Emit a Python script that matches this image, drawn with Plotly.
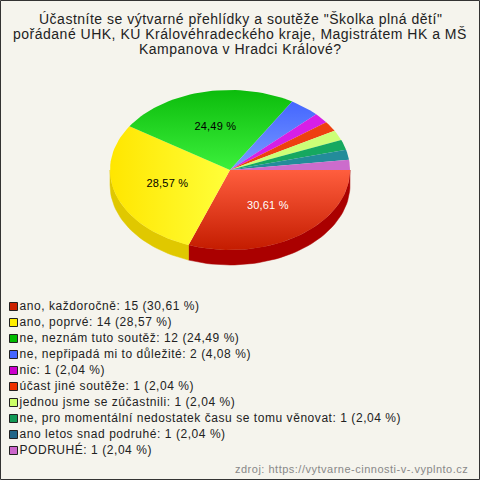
import numpy as np
import plotly.graph_objects as go

# ---- data ----
categories = [
    "ano, každoročně",
    "ano, poprvé",
    "ne, neznám tuto soutěž",
    "ne, nepřipadá mi to důležité",
    "nic",
    "účast jiné soutěže",
    "jednou jsme se zúčastnili",
    "ne, pro momentální nedostatek času se tomu věnovat",
    "ano letos snad podruhé",
    "PODRUHÉ",
]
counts = [15, 14, 12, 2, 1, 1, 1, 1, 1, 1]
percent_labels = ["30,61", "28,57", "24,49", "4,08", "2,04", "2,04", "2,04", "2,04", "2,04", "2,04"]
top_colors = ["#e03a1e", "#fff21a", "#1fd41f", "#5a7dff", "#d61fe6", "#ee4010",
              "#ccff77", "#16a860", "#238c9a", "#cc6ccc"]
# (rim colour, centre colour) for shaded slices
shade_colors = [("#c41c00", "#ff5e3e"), ("#ffe600", "#ffff3a"), ("#0cbc0c", "#3cf03c"),
                ("#4466ff", "#7a9cff"), None, None, None, None, None, None]
side_colors = ["#aa0000", "#e0c800", "#0f9a0f", "#3050cc", "#9a10a8", "#b02a00",
               "#9acc50", "#0c7a44", "#176470", "#9a4a9a"]
legend_colors = ["#cc2200", "#ffee00", "#00bb00", "#4466ff", "#cc00cc", "#ee3300",
                 "#ccff66", "#119955", "#226688", "#cc66cc"]
title_lines = [
    "Účastníte se výtvarné přehlídky a soutěže \"Školka plná dětí\"",
    "pořádané UHK, KÚ Královéhradeckého kraje, Magistrátem HK a MŠ",
    "Kampanova v Hradci Králové?",
]
source_text = "zdroj: https://vytvarne-cinnosti-v-.vyplnto.cz"

# ---- layout geometry (pixels) ----
W = H = 480
BG = "#f5f4ed"
FONT = "Liberation Sans, Arial"
cx, cy, rx, ry, depth = 230, 170, 120, 80, 15
label_min_share = 0.1


def spaced(s, px):
    return f'<span style="letter-spacing:{px}px">{s}</span>'


total = sum(counts)
shares = np.array(counts) / total
edges = np.concatenate([[0], np.cumsum(shares)]) * 2 * np.pi

fig = go.Figure()


def arc(t0, t1, n=80, dy=0):
    t = np.linspace(t0, t1, max(2, int(n * (t1 - t0) / np.pi) + 2))
    return cx + rx * np.cos(t), cy + dy + ry * np.sin(t)


# sides (front half only: angles 0..pi, screen y downward)
for i in range(len(counts)):
    a0, a1 = max(edges[i], 0), min(edges[i + 1], np.pi)
    if a1 <= a0:
        continue
    xt, yt = arc(a0, a1)
    xb, yb = arc(a0, a1, dy=depth)
    xs = np.concatenate([xt, xb[::-1], xt[:1]])
    ys = np.concatenate([yt, yb[::-1], yt[:1]])
    fig.add_trace(go.Scatter(x=xs, y=ys, mode="lines", fill="toself",
                             fillcolor=side_colors[i], line=dict(width=0.5, color=side_colors[i]),
                             hoverinfo="skip"))

# top faces (shaded lighter towards the pie centre)
for i in range(len(counts)):
    xa, ya = arc(edges[i], edges[i + 1])
    xs = np.concatenate([[cx], xa, [cx]])
    ys = np.concatenate([[cy], ya, [cy]])
    kw = {}
    if shade_colors[i] is not None:
        rim, centre = shade_colors[i]
        m = (edges[i] + edges[i + 1]) / 2
        dx, dy = np.cos(m), np.sin(m)
        if abs(dx) > abs(dy):
            gtype, lo, hi = "horizontal", xs.min(), xs.max()
            outward_positive = dx > 0
        else:
            gtype, lo, hi = "vertical", ys.min(), ys.max()
            outward_positive = dy > 0
        cs = [[0, centre], [1, rim]] if outward_positive else [[0, rim], [1, centre]]
        kw["fillgradient"] = dict(type=gtype, colorscale=cs, start=lo, stop=hi)
    fig.add_trace(go.Scatter(x=xs, y=ys, mode="lines", fill="toself",
                             fillcolor=top_colors[i], line=dict(width=0),
                             hoverinfo="skip", **kw))

# percentage labels
lx, ly, lt, lc = [], [], [], []
for i in range(len(counts)):
    if shares[i] < label_min_share:
        continue
    m = (edges[i] + edges[i + 1]) / 2
    lx.append(cx + 0.55 * rx * np.cos(m))
    ly.append(cy + 0.55 * ry * np.sin(m))
    lt.append(spaced(percent_labels[i] + " %", 0.2))
    lc.append("#ffffff" if i == 0 else "#000000")
fig.add_trace(go.Scatter(x=lx, y=ly, mode="text", text=lt,
                         textfont=dict(family=FONT, size=11, color=lc),
                         hoverinfo="skip"))

# legend
leg_x0, leg_y0, leg_dy = 13.5, 306.5, 16
leg_y = [leg_y0 + leg_dy * i for i in range(len(categories))]
leg_text = [spaced(f"{c}: {n} ({p} %)", 0.55) for c, n, p in zip(categories, counts, percent_labels)]
fig.add_trace(go.Scatter(
    x=[leg_x0] * len(categories), y=leg_y, mode="markers+text",
    marker=dict(symbol="square", size=8, color=legend_colors,
                line=dict(width=1, color="#222222")),
    text=leg_text, textposition="middle right",
    textfont=dict(family=FONT, size=12, color="#222222"),
    hoverinfo="skip"))

annotations = []
for k, line in enumerate(title_lines):
    annotations.append(dict(x=240, y=19 + 15 * k, xref="x", yref="y", text=spaced(line, 0.5),
                            showarrow=False, xanchor="center", yanchor="middle",
                            font=dict(family=FONT, size=14, color="#222222")))
annotations.append(dict(x=470, y=469, xref="x", yref="y", text=spaced(source_text, 0.5),
                        showarrow=False, xanchor="right", yanchor="middle",
                        font=dict(family=FONT, size=11, color="#888888")))

fig.update_layout(
    width=W, height=H, margin=dict(l=0, r=0, t=0, b=0),
    paper_bgcolor=BG, plot_bgcolor=BG, showlegend=False,
    xaxis=dict(range=[0, W], visible=False, fixedrange=True),
    yaxis=dict(range=[H, 0], visible=False, fixedrange=True),
    annotations=annotations,
    shapes=[dict(type="rect", xref="x", yref="y", x0=0.5, y0=0.5, x1=W - 0.5, y1=H - 0.5,
                 line=dict(color="#333333", width=1))],
    hovermode=False,
)

fig.write_html("out.html", config={"displayModeBar": False},
               post_script="document.body.style.margin='0';document.body.style.padding='0';")
